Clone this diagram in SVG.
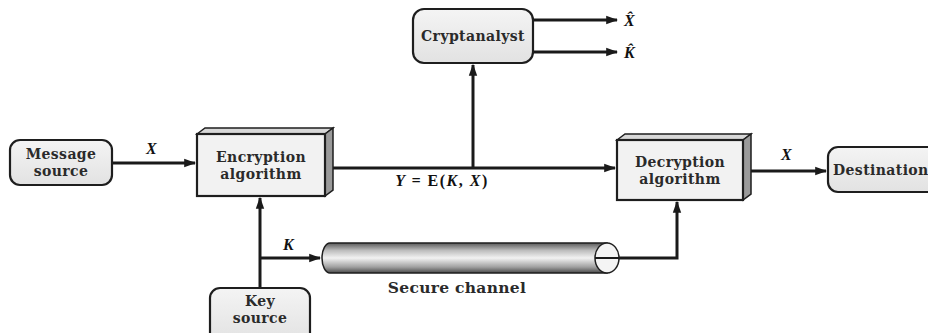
<svg xmlns="http://www.w3.org/2000/svg" width="928" height="333" viewBox="0 0 928 333">
<style>
.box{fill:url(#boxg);stroke:#1e1e1e;stroke-width:2.2}
.face{fill:#f2f2f2;stroke:#1e1e1e;stroke-width:2.2}
.side{fill:#9a9a9a;stroke:#1e1e1e;stroke-width:1.5}
.top{fill:#d8d8d8;stroke:#1e1e1e;stroke-width:1.5}
.t{font-family:"DejaVu Serif","Liberation Serif",serif;font-weight:bold;font-size:14px;letter-spacing:0.4px;fill:#2a2a2a;text-anchor:middle}
.ts{text-anchor:start}
.lbl{font-family:"Liberation Serif",serif;font-weight:bold;font-style:italic;font-size:16px;fill:#111}
.up{font-style:normal}
.ln{fill:none;stroke:#1a1a1a;stroke-width:3}
</style>
<defs>
<linearGradient id="boxg" x1="0" y1="0" x2="0" y2="1">
<stop offset="0" stop-color="#f4f4f4"/><stop offset="1" stop-color="#e2e2e2"/>
</linearGradient>
<linearGradient id="cyl" x1="0" y1="0" x2="0" y2="1">
<stop offset="0" stop-color="#5a5a5a"/><stop offset="0.25" stop-color="#bdbdbd"/><stop offset="0.5" stop-color="#f2f2f2"/><stop offset="0.8" stop-color="#a0a0a0"/><stop offset="1" stop-color="#4a4a4a"/>
</linearGradient>
<marker id="ah" viewBox="0 0 10 10" refX="9" refY="5" markerWidth="4" markerHeight="4" orient="auto" markerUnits="strokeWidth">
<path d="M0,1.5 L10,5 L0,8.5 z" fill="#1a1a1a"/>
</marker>
</defs>

<g id="connectors">
<path class="ln" d="M112,163 H195" marker-end="url(#ah)"/>
<path class="ln" d="M333,168 H615" marker-end="url(#ah)"/>
<path class="ln" d="M473,168 V65" marker-end="url(#ah)"/>
<path class="ln" d="M533,20 H617" marker-end="url(#ah)"/>
<path class="ln" d="M533,52 H617" marker-end="url(#ah)"/>
<path class="ln" d="M751,171 H826" marker-end="url(#ah)"/>
<path class="ln" d="M260,288 V198" marker-end="url(#ah)"/>
<path class="ln" d="M260,258 H320" marker-end="url(#ah)"/>
<path class="ln" d="M607,258 H677 V202" marker-end="url(#ah)"/>
</g>

<g id="labels">
<text class="lbl" x="146" y="154">X</text>
<text class="lbl" x="442" y="186" text-anchor="middle" style="letter-spacing:1.5px">Y = <tspan class="up">E(</tspan>K<tspan class="up">, </tspan>X<tspan class="up">)</tspan></text>
<text class="lbl" x="283" y="250">K</text>
<text class="lbl" x="781" y="160">X</text>
<text class="lbl" x="624" y="26">X&#x302;</text>
<text class="lbl" x="624" y="58">K&#x302;</text>
</g>

<g id="message-source">
<rect class="box" x="10" y="140" width="102" height="45" rx="10"/>
<text class="t" x="61" y="159">Message</text>
<text class="t" x="61" y="176">source</text>
</g>

<g id="encryption">
<polygon class="top" points="197,134 205,128 333,128 325,134"/>
<polygon class="side" points="325,134 333,128 333,190 325,196"/>
<rect class="face" x="197" y="134" width="128" height="62"/>
<text class="t" x="261" y="162">Encryption</text>
<text class="t" x="261" y="179">algorithm</text>
</g>

<g id="cryptanalyst">
<rect class="box" x="413" y="9" width="120" height="54" rx="11"/>
<text class="t" x="473" y="41">Cryptanalyst</text>
</g>

<g id="decryption">
<polygon class="top" points="617,140 625,134 751,134 743,140"/>
<polygon class="side" points="743,140 751,134 751,194 743,200"/>
<rect class="face" x="617" y="140" width="126" height="60"/>
<text class="t" x="680" y="167">Decryption</text>
<text class="t" x="680" y="184">algorithm</text>
</g>

<g id="destination">
<rect class="box" x="828" y="147" width="110" height="45" rx="10"/>
<text class="t ts" x="833" y="175">Destination</text>
</g>

<g id="key-source">
<rect class="box" x="210" y="288" width="100" height="55" rx="10"/>
<text class="t" x="260" y="306">Key</text>
<text class="t" x="260" y="323">source</text>
</g>

<g id="secure-channel">
<path d="M330,243 H607 V273 H330 A8,15 0 0 1 330,243 z" fill="url(#cyl)" stroke="#1e1e1e" stroke-width="1.5"/>
<ellipse cx="607" cy="258" rx="12" ry="15" fill="#f4f4f4" stroke="#1e1e1e" stroke-width="1.5"/>
<line x1="595" y1="258" x2="619" y2="258" stroke="#1a1a1a" stroke-width="2"/>
<text class="t" x="457" y="293" style="font-size:15.5px;letter-spacing:0.3px">Secure channel</text>
</g>
</svg>
